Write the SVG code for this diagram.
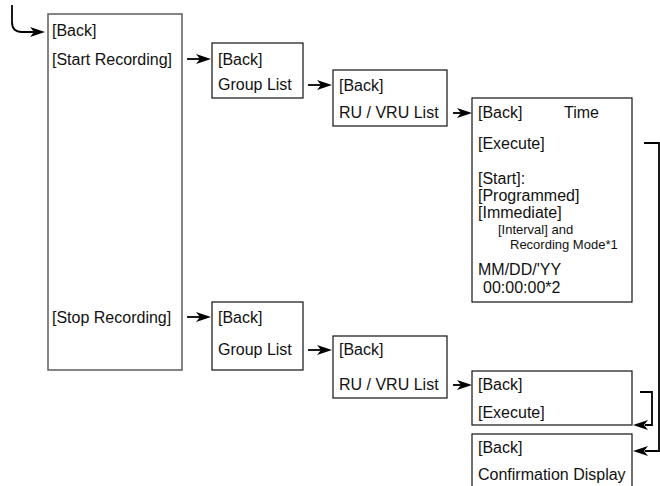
<svg xmlns="http://www.w3.org/2000/svg" width="660" height="486" viewBox="0 0 660 486">
<style>
.t{font-family:"Liberation Sans",Arial,sans-serif;font-size:16px;fill:#111}
.s{font-family:"Liberation Sans",Arial,sans-serif;font-size:13px;fill:#111}
.b{fill:#fff;stroke:#111;stroke-width:1.2}
.m{fill:#fff;stroke:#666;stroke-width:1.6}
.c{fill:none;stroke:#000;stroke-width:1.8}
.h{fill:#000;stroke:none}
</style>
<defs>
<path id="ar" d="M0,0 L-15,-5 L-11,0 L-15,5 z"/>
<path id="al" d="M0,0 L15,-5 L11,0 L15,5 z"/>
</defs>
<g id="connectors">
<path class="c" d="M12,5 V22 Q12,32 22,32 H34"/>
<use href="#ar" class="h" x="45" y="32"/>
<path class="c" d="M187,59 H200"/>
<use href="#ar" class="h" x="211" y="59"/>
<path class="c" d="M308,85 H321"/>
<use href="#ar" class="h" x="332" y="85"/>
<path class="c" d="M453,113 H461"/>
<use href="#ar" class="h" x="472" y="113"/>
<path class="c" d="M187,317 H200"/>
<use href="#ar" class="h" x="211" y="317"/>
<path class="c" d="M308,350 H321"/>
<use href="#ar" class="h" x="332" y="350"/>
<path class="c" d="M453,385 H461"/>
<use href="#ar" class="h" x="472" y="385"/>
<path class="c" d="M640,392 H652 V425 H645"/>
<use href="#al" class="h" x="633" y="425"/>
<path class="c" d="M644,143 H659 V451 H645"/>
<use href="#al" class="h" x="633" y="451"/>
</g>
<g id="main-menu">
<rect class="m" x="48" y="14" width="134" height="356"/>
<text class="t" x="52" y="36">[Back]</text>
<text class="t" x="52" y="65">[Start Recording]</text>
<text class="t" x="52" y="323">[Stop Recording]</text>
</g>
<g id="group-list-1">
<rect class="b" x="212" y="43" width="91" height="55"/>
<text class="t" x="218" y="65">[Back]</text>
<text class="t" x="218" y="90">Group List</text>
</g>
<g id="ru-list-1">
<rect class="b" x="333" y="70" width="114" height="56"/>
<text class="t" x="339" y="91">[Back]</text>
<text class="t" x="339" y="118">RU / VRU List</text>
</g>
<g id="time">
<rect class="b" x="472" y="98" width="160" height="204"/>
<text class="t" x="478" y="118">[Back]</text>
<text class="t" x="564" y="118">Time</text>
<text class="t" x="478" y="149">[Execute]</text>
<text class="t" x="478" y="184">[Start]:</text>
<text class="t" x="478" y="201">[Programmed]</text>
<text class="t" x="478" y="218">[Immediate]</text>
<text class="s" x="498" y="234">[Interval] and</text>
<text class="s" x="510" y="249">Recording Mode*1</text>
<text class="t" x="478" y="275">MM/DD/'YY</text>
<text class="t" x="483" y="293">00:00:00*2</text>
</g>
<g id="group-list-2">
<rect class="b" x="212" y="302" width="91" height="68"/>
<text class="t" x="218" y="323">[Back]</text>
<text class="t" x="218" y="355">Group List</text>
</g>
<g id="ru-list-2">
<rect class="b" x="333" y="336" width="114" height="62"/>
<text class="t" x="339" y="355">[Back]</text>
<text class="t" x="339" y="390">RU / VRU List</text>
</g>
<g id="execute">
<rect class="b" x="472" y="371" width="160" height="54"/>
<text class="t" x="478" y="390">[Back]</text>
<text class="t" x="478" y="418">[Execute]</text>
</g>
<g id="confirmation">
<rect class="b" x="472" y="434" width="160" height="60"/>
<text class="t" x="478" y="453">[Back]</text>
<text class="t" x="478" y="480">Confirmation Display</text>
</g>
</svg>
